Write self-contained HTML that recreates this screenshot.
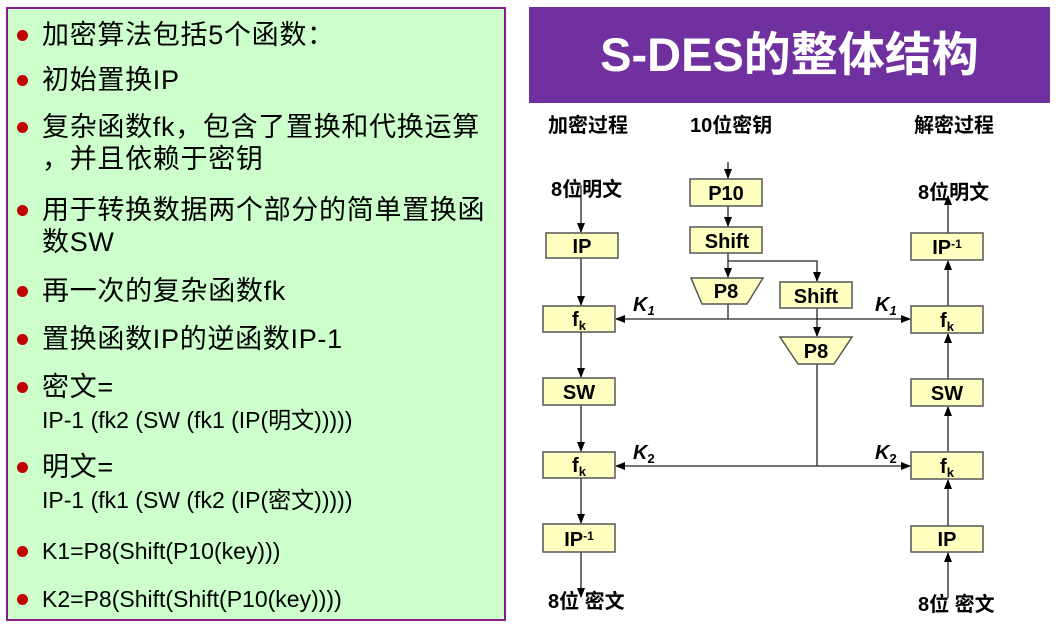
<!DOCTYPE html>
<html><head><meta charset="utf-8"><style>
body{margin:0;width:1058px;height:625px;background:#fff;position:relative;overflow:hidden;font-family:"Liberation Sans","Noto Sans CJK SC",sans-serif}
#panel{position:absolute;left:6px;top:7px;width:496px;height:610px;background:#ccffcc;border:2px solid #8b1a8b}
.l{position:absolute;left:34px;font-size:27px;letter-spacing:0.7px;color:#000;white-space:nowrap;line-height:32px}
.l span,.s{font-size:23px;letter-spacing:0}
.b{position:absolute;left:9px;width:11px;height:11px;border-radius:50%;background:#c00000}
#ban{position:absolute;left:529px;top:7px;width:521px;height:96px;background:#7030a0;color:#fff;font-weight:bold;font-size:47px;text-align:center;line-height:96px;font-family:"Liberation Sans","Noto Sans CJK SC",sans-serif}
svg{position:absolute;left:0;top:0}
</style></head><body>
<div id="panel">
<div class="b" style="top:21px"></div><div class="l" style="top:10px">加密算法包括5个函数：</div>
<div class="b" style="top:66px"></div><div class="l" style="top:55px">初始置换IP</div>
<div class="b" style="top:113px"></div><div class="l" style="top:102px">复杂函数fk，包含了置换和代换运算<br>，并且依赖于密钥</div>
<div class="b" style="top:196px"></div><div class="l" style="top:185px">用于转换数据两个部分的简单置换函<br>数SW</div>
<div class="b" style="top:277px"></div><div class="l" style="top:266px">再一次的复杂函数fk</div>
<div class="b" style="top:325px"></div><div class="l" style="top:314px">置换函数IP的逆函数IP-1</div>
<div class="b" style="top:373px"></div><div class="l" style="top:362px">密文=<br><span>IP-1 (fk2 (SW (fk1 (IP(明文)))))</span></div>
<div class="b" style="top:453px"></div><div class="l" style="top:442px">明文=<br><span>IP-1 (fk1 (SW (fk2 (IP(密文)))))</span></div>
<div class="b" style="top:537px"></div><div class="l s" style="top:526px">K1=P8(Shift(P10(key)))</div>
<div class="b" style="top:585px"></div><div class="l s" style="top:574px">K2=P8(Shift(Shift(P10(key))))</div>
</div>
<div id="ban">S-DES的整体结构</div>
<svg width="1058" height="625" font-family="Liberation Sans, Noto Sans CJK SC, sans-serif" font-weight="bold">
<defs><marker id="a" markerWidth="10" markerHeight="8" refX="9" refY="4" orient="auto" markerUnits="userSpaceOnUse"><path d="M0,0L10,4L0,8z" fill="#000"/></marker></defs>
<g font-size="20" fill="#000">
<text x="548" y="132">加密过程</text><text x="690" y="132">10位密钥</text><text x="914" y="132">解密过程</text>
<text x="551" y="196">8位明文</text><text x="918" y="199">8位明文</text>
<text x="548" y="608">8位 密文</text><text x="918" y="611">8位 密文</text>
</g>
<g stroke="#222" stroke-width="1.3" fill="none">
<line x1="581" y1="185" x2="581" y2="232" marker-end="url(#a)"/>
<line x1="581" y1="258" x2="581" y2="305" marker-end="url(#a)"/>
<line x1="581" y1="332" x2="581" y2="377" marker-end="url(#a)"/>
<line x1="581" y1="405" x2="581" y2="451" marker-end="url(#a)"/>
<line x1="581" y1="478" x2="581" y2="523" marker-end="url(#a)"/>
<line x1="581" y1="552" x2="581" y2="597" marker-end="url(#a)"/>
<line x1="948" y1="598" x2="948" y2="553" marker-end="url(#a)"/>
<line x1="948" y1="526" x2="948" y2="480" marker-end="url(#a)"/>
<line x1="948" y1="452" x2="948" y2="407" marker-end="url(#a)"/>
<line x1="948" y1="379" x2="948" y2="334" marker-end="url(#a)"/>
<line x1="948" y1="306" x2="948" y2="261" marker-end="url(#a)"/>
<line x1="948" y1="233" x2="948" y2="196" marker-end="url(#a)"/>
<line x1="728" y1="162" x2="728" y2="178" marker-end="url(#a)"/>
<line x1="728" y1="206" x2="728" y2="226" marker-end="url(#a)"/>
<line x1="728" y1="253" x2="728" y2="277" marker-end="url(#a)"/>
<polyline points="728,261 817,261 817,281" marker-end="url(#a)"/>
<line x1="817" y1="308" x2="817" y2="336" marker-end="url(#a)"/>
<line x1="728" y1="304" x2="728" y2="319"/>
<line x1="728" y1="319" x2="616" y2="319" marker-end="url(#a)"/>
<line x1="728" y1="319" x2="910" y2="319" marker-end="url(#a)"/>
<line x1="817" y1="364" x2="817" y2="466"/>
<line x1="817" y1="466" x2="616" y2="466" marker-end="url(#a)"/>
<line x1="817" y1="466" x2="910" y2="466" marker-end="url(#a)"/>
</g>
<g fill="#ffffc0" stroke="#555" stroke-width="1.5">
<rect x="546" y="233" width="72" height="25"/>
<rect x="543" y="306" width="72" height="26"/>
<rect x="543" y="378" width="72" height="27"/>
<rect x="543" y="452" width="72" height="26"/>
<rect x="543" y="524" width="72" height="28"/>
<rect x="911" y="233" width="72" height="27"/>
<rect x="911" y="306" width="72" height="27"/>
<rect x="911" y="379" width="72" height="27"/>
<rect x="911" y="452" width="72" height="27"/>
<rect x="911" y="526" width="72" height="26"/>
<rect x="690" y="179" width="72" height="27"/>
<rect x="690" y="227" width="72" height="26"/>
<rect x="780" y="282" width="72" height="26"/>
<polygon points="691,278 763,278 747,304 702,304"/>
<polygon points="780,337 852,337 834,364 798,364"/>
</g>
<g font-size="20" text-anchor="middle" fill="#000">
<text x="582" y="253">IP</text>
<text x="579" y="326">f<tspan font-size="13" dy="4">k</tspan></text>
<text x="579" y="399">SW</text>
<text x="579" y="472">f<tspan font-size="13" dy="4">k</tspan></text>
<text x="579" y="546">IP<tspan font-size="12" dy="-6">-1</tspan></text>
<text x="947" y="254">IP<tspan font-size="12" dy="-6">-1</tspan></text>
<text x="947" y="327">f<tspan font-size="13" dy="4">k</tspan></text>
<text x="947" y="400">SW</text>
<text x="947" y="473">f<tspan font-size="13" dy="4">k</tspan></text>
<text x="947" y="546">IP</text>
<text x="726" y="200">P10</text>
<text x="727" y="248">Shift</text>
<text x="816" y="303">Shift</text>
<text x="726" y="298">P8</text>
<text x="816" y="358">P8</text>
</g>
<g font-size="20" font-style="italic" fill="#000">
<text x="633" y="311">K<tspan font-size="13" dy="4">1</tspan></text>
<text x="875" y="311">K<tspan font-size="13" dy="4">1</tspan></text>
<text x="633" y="459">K<tspan font-size="13" dy="4" font-style="normal">2</tspan></text>
<text x="875" y="459">K<tspan font-size="13" dy="4" font-style="normal">2</tspan></text>
</g>
</svg>
</body></html>
